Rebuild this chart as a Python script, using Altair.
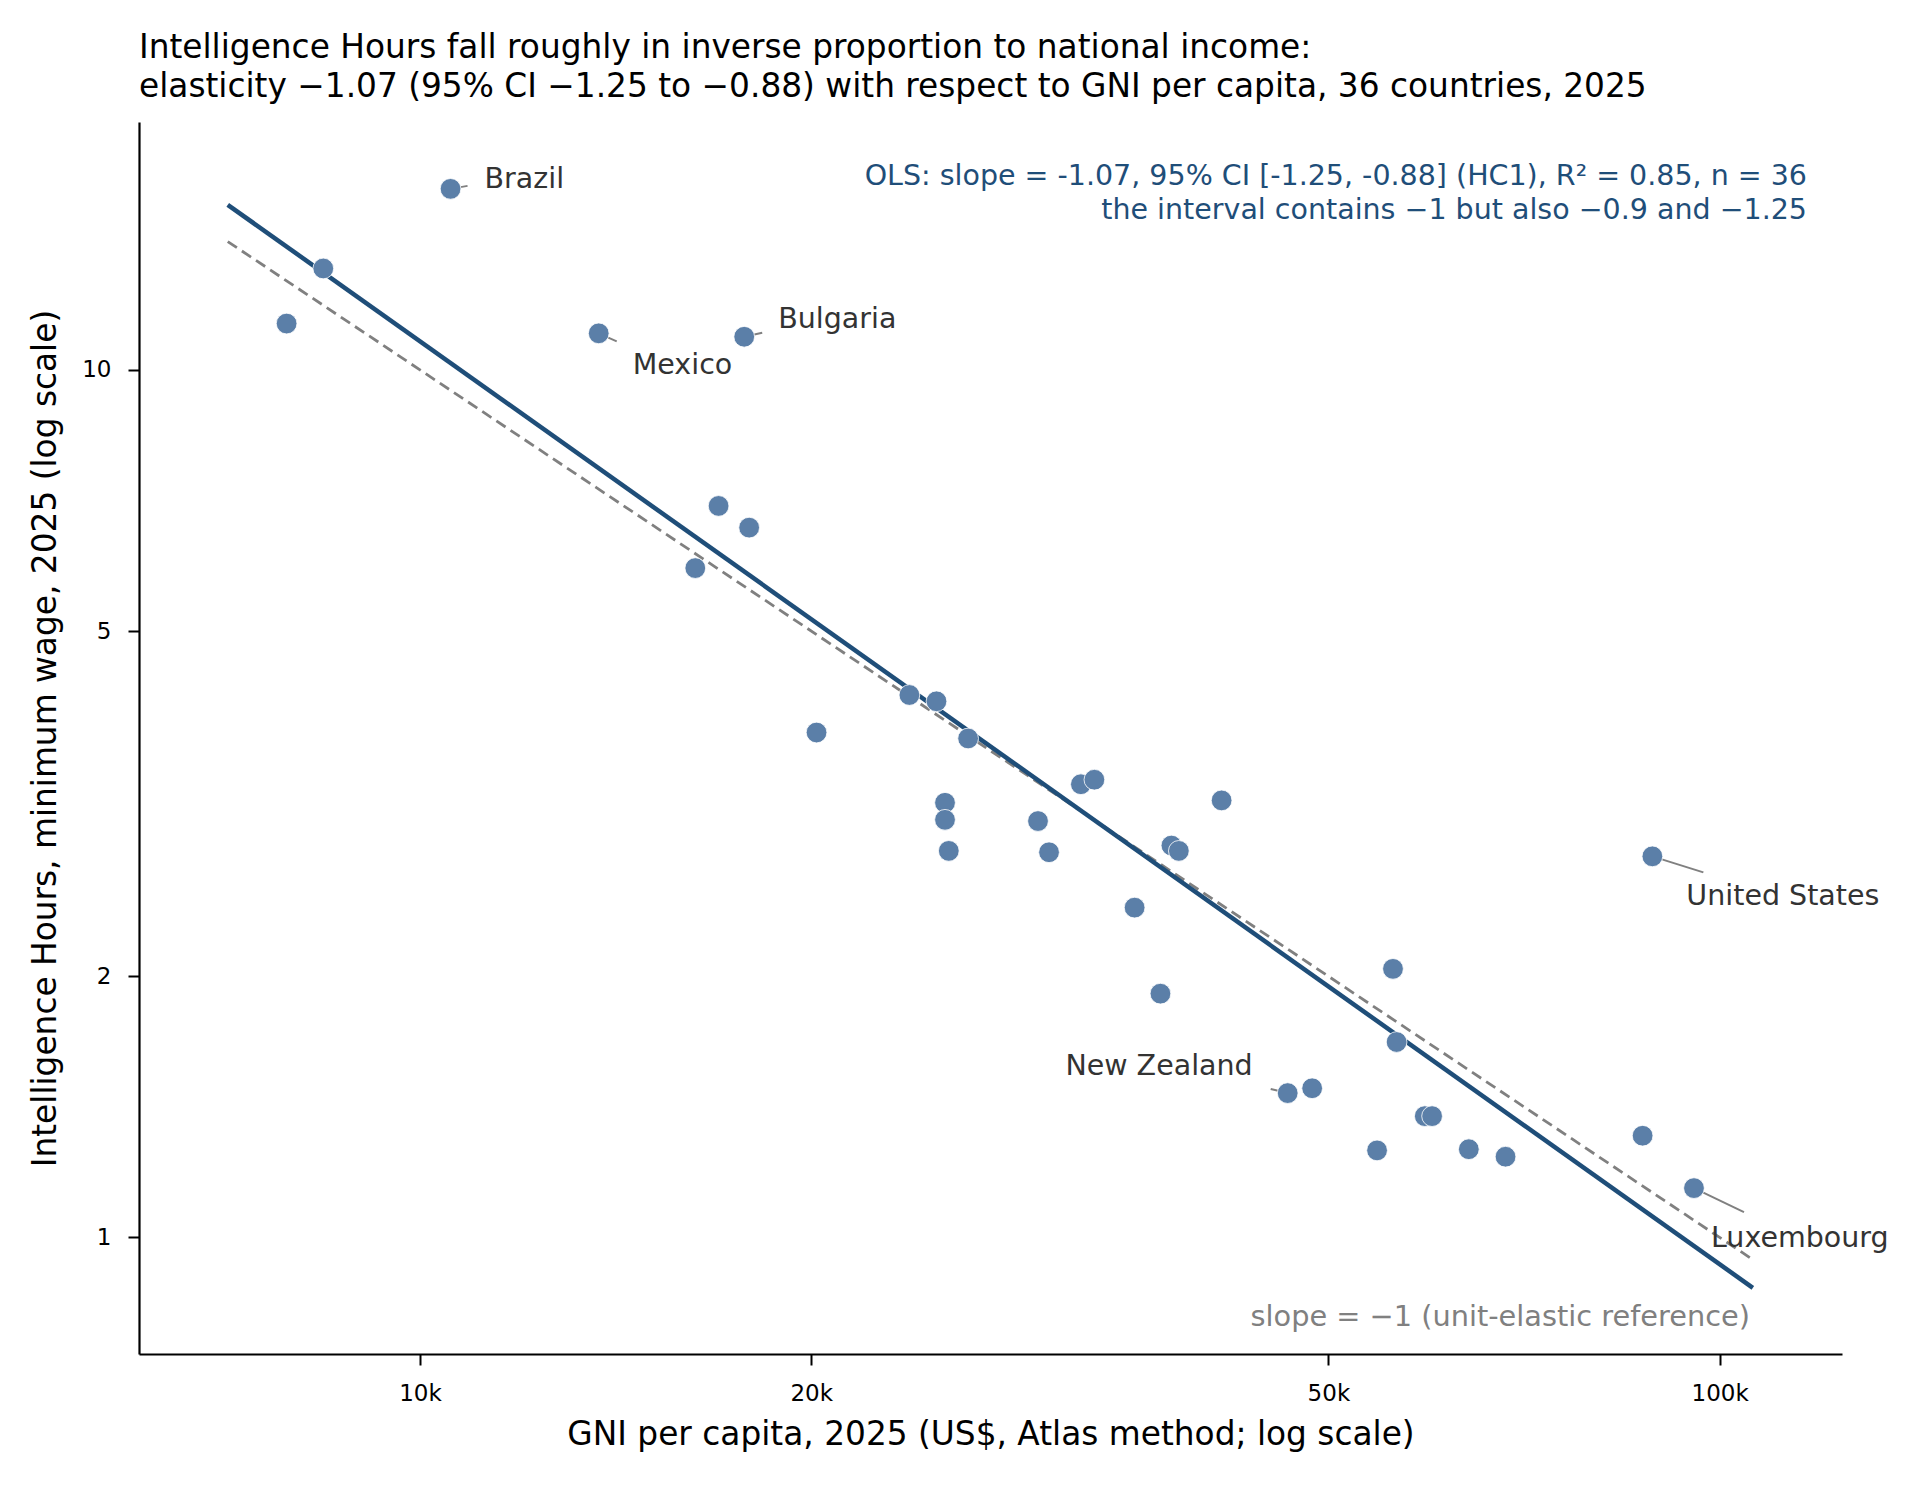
import math
import altair as alt
import pandas as pd

# ---------------- data ----------------
gni = [10557, 8426, 7896, 13726, 17762, 16973, 17918, 16287, 20190, 23800,
       24970, 26410, 25350, 25350, 25520, 29890, 30480, 32250, 33030, 35470,
       37130, 37860, 38360, 41380, 46520, 48580, 54500, 56060, 56420, 59310,
       60080, 64120, 68430, 87240, 88760, 95550]
hours = [16.17, 13.09, 11.31, 11.02, 10.92, 6.97, 6.58, 5.91, 3.82, 4.22,
         4.15, 3.76, 3.17, 3.03, 2.79, 3.02, 2.78, 3.33, 3.37, 2.40,
         1.91, 2.83, 2.79, 3.19, 1.467, 1.486, 1.26, 2.04, 1.68, 1.38,
         1.38, 1.264, 1.239, 1.31, 2.75, 1.14]
label_country = ["Brazil", "Mexico", "Bulgaria", "New Zealand", "United States", "Luxembourg"]
label_index = [0, 3, 4, 24, 34, 35]

fit_gni = [7114, 106050]
fit_hours = [15.5, 0.875]
ref_gni = [7114, 106050]
ref_hours = [14.06, 0.943]

x_ticks = [10000, 20000, 50000, 100000]
y_ticks = [1, 2, 5, 10]

title_lines = [
    "Intelligence Hours fall roughly in inverse proportion to national income:",
    "elasticity \u22121.07 (95% CI \u22121.25 to \u22120.88) with respect to GNI per capita, 36 countries, 2025",
]
ols_lines = [
    "OLS: slope = -1.07, 95% CI [-1.25, -0.88] (HC1), R\u00b2 = 0.85, n = 36",
    "the interval contains \u22121 but also \u22120.9 and \u22121.25",
]
ref_note = "slope = \u22121 (unit-elastic reference)"
x_title = "GNI per capita, 2025 (US$, Atlas method; log scale)"
y_title = "Intelligence Hours, minimum wage, 2025 (log scale)"

# ---------------- layout / style ----------------
FONT = "DejaVu Sans"
W, H = 1703, 1232
X_DOM = [6079, 124200]
Y_DOM = [0.734, 19.31]
PX_X = W / (math.log10(X_DOM[1]) - math.log10(X_DOM[0]))
PX_Y = H / (math.log10(Y_DOM[1]) - math.log10(Y_DOM[0]))

# label placement in pixels relative to the point: align, text dx, text dy, leader dx, leader dy
label_offsets = {
    "Brazil": ("left", 34, -10, 17, -3),
    "Mexico": ("left", 34, 32, 18, 8),
    "Bulgaria": ("left", 34, -18, 18, -4),
    "New Zealand": ("right", -35, -27, -17, -4),
    "United States": ("left", 34, 40, 51, 16),
    "Luxembourg": ("left", 17, 50, 50, 24),
}

POINT_COLOR = "#5b7fa8"
FIT_COLOR = "#1f4e79"
GREY = "#808080"
LABEL_COLOR = "#333333"
LABEL_SIZE = 28.5

# ---------------- tables ----------------
pts = pd.DataFrame({"gni": gni, "hours": hours})
fit_df = pd.DataFrame({"gni": fit_gni, "hours": fit_hours})
ref_df = pd.DataFrame({"gni": ref_gni, "hours": ref_hours})

rows = []
for name, idx in zip(label_country, label_index):
    align, tdx, tdy, ldx, ldy = label_offsets[name]
    gx, hy = gni[idx], hours[idx]
    rows.append({
        "name": name, "align": align,
        "gni": gx, "hours": hy,
        "tx": gx * 10 ** (tdx / PX_X), "ty": hy * 10 ** (-tdy / PX_Y),
        "lx": gx * 10 ** (ldx / PX_X), "ly": hy * 10 ** (-ldy / PX_Y),
    })
lab = pd.DataFrame(rows)

xscale = alt.Scale(type="log", domain=X_DOM, nice=False)
yscale = alt.Scale(type="log", domain=Y_DOM, nice=False)
xaxis = alt.Axis(values=x_ticks, labelExpr="datum.value / 1000 + 'k'", title=x_title,
                 grid=False, tickSize=11, labelPadding=17, titlePadding=13)
yaxis = alt.Axis(values=y_ticks, format="d", title=y_title, grid=False,
                 tickSize=11, labelPadding=17, titlePadding=19)


def X(field):
    return alt.X(f"{field}:Q", scale=xscale, axis=xaxis)


def Y(field):
    return alt.Y(f"{field}:Q", scale=yscale, axis=yaxis)


ref_line = alt.Chart(ref_df).mark_line(color=GREY, strokeWidth=2.8, strokeDash=[11, 6]).encode(
    x=X("gni"), y=Y("hours"))
fit_line = alt.Chart(fit_df).mark_line(color=FIT_COLOR, strokeWidth=4.5).encode(
    x=X("gni"), y=Y("hours"))
leaders = alt.Chart(lab).mark_rule(color=GREY, strokeWidth=2).encode(
    x=X("gni"), y=Y("hours"), x2="lx:Q", y2="ly:Q")
points = alt.Chart(pts).mark_circle(size=430, color=POINT_COLOR, opacity=1,
                                    stroke="white", strokeWidth=0.8).encode(
    x=X("gni"), y=Y("hours"))
labels_left = alt.Chart(lab).transform_filter("datum.align == 'left'").mark_text(
    align="left", baseline="middle", font=FONT, fontSize=LABEL_SIZE, color=LABEL_COLOR).encode(
    x=X("tx"), y=Y("ty"), text="name:N")
labels_right = alt.Chart(lab).transform_filter("datum.align == 'right'").mark_text(
    align="right", baseline="middle", font=FONT, fontSize=LABEL_SIZE, color=LABEL_COLOR).encode(
    x=X("tx"), y=Y("ty"), text="name:N")

ols1 = alt.Chart(pd.DataFrame({"t": [ols_lines[0]]})).mark_text(
    align="right", baseline="middle", font=FONT, fontSize=LABEL_SIZE, color=FIT_COLOR).encode(
    x=alt.value(1668), y=alt.value(53.5), text="t:N")
ols2 = alt.Chart(pd.DataFrame({"t": [ols_lines[1]]})).mark_text(
    align="right", baseline="middle", font=FONT, fontSize=LABEL_SIZE, color=FIT_COLOR).encode(
    x=alt.value(1668), y=alt.value(87.5), text="t:N")
note = alt.Chart(pd.DataFrame({"t": [ref_note]})).mark_text(
    align="right", baseline="middle", font=FONT, fontSize=28.8, color=GREY).encode(
    x=alt.value(1611), y=alt.value(1195), text="t:N")

chart = alt.layer(ref_line, fit_line, leaders, points, labels_left, labels_right,
                  ols1, ols2, note).properties(
    width=W, height=H,
    autosize=alt.AutoSizeParams(type="none"),
    padding={"left": 131, "top": 114, "right": 69, "bottom": 124},
    background="white",
    title=alt.TitleParams(text=title_lines, anchor="start", frame="group", font=FONT,
                          fontSize=32.8, fontWeight="normal", color="black",
                          lineHeight=39, offset=18),
).configure_view(strokeOpacity=0).configure_axis(
    domainColor="black", domainWidth=2.2, tickColor="black", tickWidth=2,
    labelFont=FONT, labelFontSize=23, labelColor="black",
    titleFont=FONT, titleFontSize=32.8, titleFontWeight="normal", titleColor="black",
)

chart.save("out.html", embed_options={"renderer": "svg", "actions": False})
